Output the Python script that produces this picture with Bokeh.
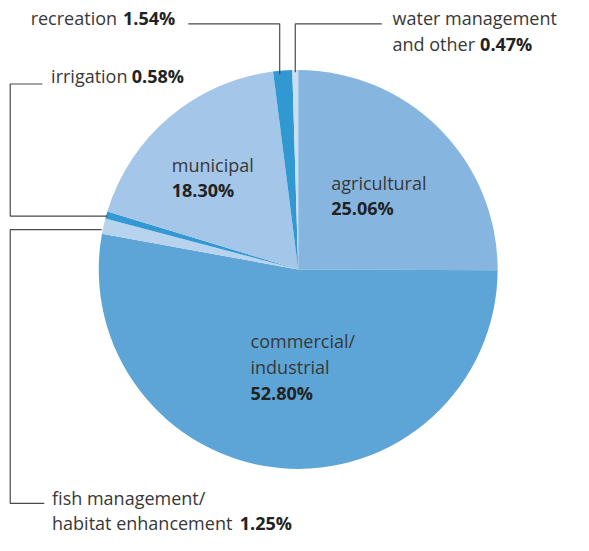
import math
from bokeh.plotting import figure
from bokeh.models import Range1d, ColumnDataSource
from bokeh.core.properties import value
from bokeh.embed import file_html
from bokeh.resources import INLINE

# ---- data ----
categories = ["agricultural", "commercial/industrial", "fish management/habitat enhancement",
              "irrigation", "municipal", "recreation", "water management and other"]
shares = [25.06, 52.80, 1.25, 0.58, 18.30, 1.54, 0.47]
pct_labels = ["25.06%", "52.80%", "1.25%", "0.58%", "18.30%", "1.54%", "0.47%"]
colors = ["#86b6e0", "#5ea5d7", "#b7d3ee", "#3398d3", "#a4c6e8", "#3298d2", "#c9def2"]

# layout frame (reference picture units)
RW, RH = 589, 551
W, H = 573, 535
DY = 7  # compensation for svg text baseline placement


def X(px):
    return px


def Y(py):
    return RH - py


def TY(py):
    return RH - (py - DY)


p = figure(width=W, height=H, output_backend="svg", toolbar_location=None,
           x_range=Range1d(0, RW), y_range=Range1d(0, RH),
           x_axis_location=None, y_axis_location=None,
           min_border=0)
p.grid.visible = False
p.outline_line_color = None
p.background_fill_color = "white"
p.border_fill_color = "white"

total = sum(shares)
starts, ends = [], []
cum = 0.0
for s in shares:
    starts.append(math.pi / 2 - 2 * math.pi * cum / total)
    cum += s
    ends.append(math.pi / 2 - 2 * math.pi * cum / total)

src = ColumnDataSource(dict(cat=categories, share=shares, start=starts, end=ends, color=colors))
cx, cy, r = 306, 277, 205
p.wedge(x=X(cx), y=Y(cy), radius=r, start_angle="start", end_angle="end",
        direction="clock", fill_color="color", line_color=None, source=src)

# ---- leader lines ----
line_col = "#4a4a4a"
leaders = [
    ([193, 287, 287], [24, 24, 76]),          # recreation
    ([392, 303, 303], [24, 24, 74]),          # water management
    ([43, 10, 10, 110], [86, 86, 222, 222]),  # irrigation
    ([104, 10, 10, 45], [236, 236, 518, 518]),  # fish management
]
for xs, ys in leaders:
    p.line([X(v) for v in xs], [Y(v) for v in ys], line_color=line_col, line_width=1.2)

FONT = value("Open Sans")
FS = "18px"
txt_col = "#383838"
num_col = "#222222"


def lbl(x, y, t):
    p.text(x=[X(x)], y=[TY(y)], text=[t], text_font=FONT, text_font_size=FS,
           text_color=txt_col, text_baseline="alphabetic", text_align="left")


def num(x, y, t):
    p.text(x=[X(x)], y=[TY(y)], text=[t], text_font=FONT, text_font_size=FS,
           text_color=num_col, text_baseline="alphabetic", text_align="left",
           text_font_style="bold")


# recreation
lbl(31, 25, "recreation")
num(126, 25, pct_labels[5])
# water management
lbl(403, 25, "water management")
lbl(403, 52, "and other")
num(493, 52, pct_labels[6])
# irrigation
lbl(52, 85, "irrigation")
num(135, 85, pct_labels[3])
# municipal
lbl(176, 176, "municipal")
num(176, 202, pct_labels[4])
# agricultural
lbl(340, 195, "agricultural")
num(340, 221, pct_labels[0])
# commercial
lbl(257, 358, "commercial/")
lbl(257, 384, "industrial")
num(257, 411, pct_labels[1])
# fish
lbl(53, 519, "fish management/")
lbl(53, 545, "habitat enhancement")
num(246, 545, pct_labels[2])

open("out.html", "w").write(file_html(p, INLINE))
